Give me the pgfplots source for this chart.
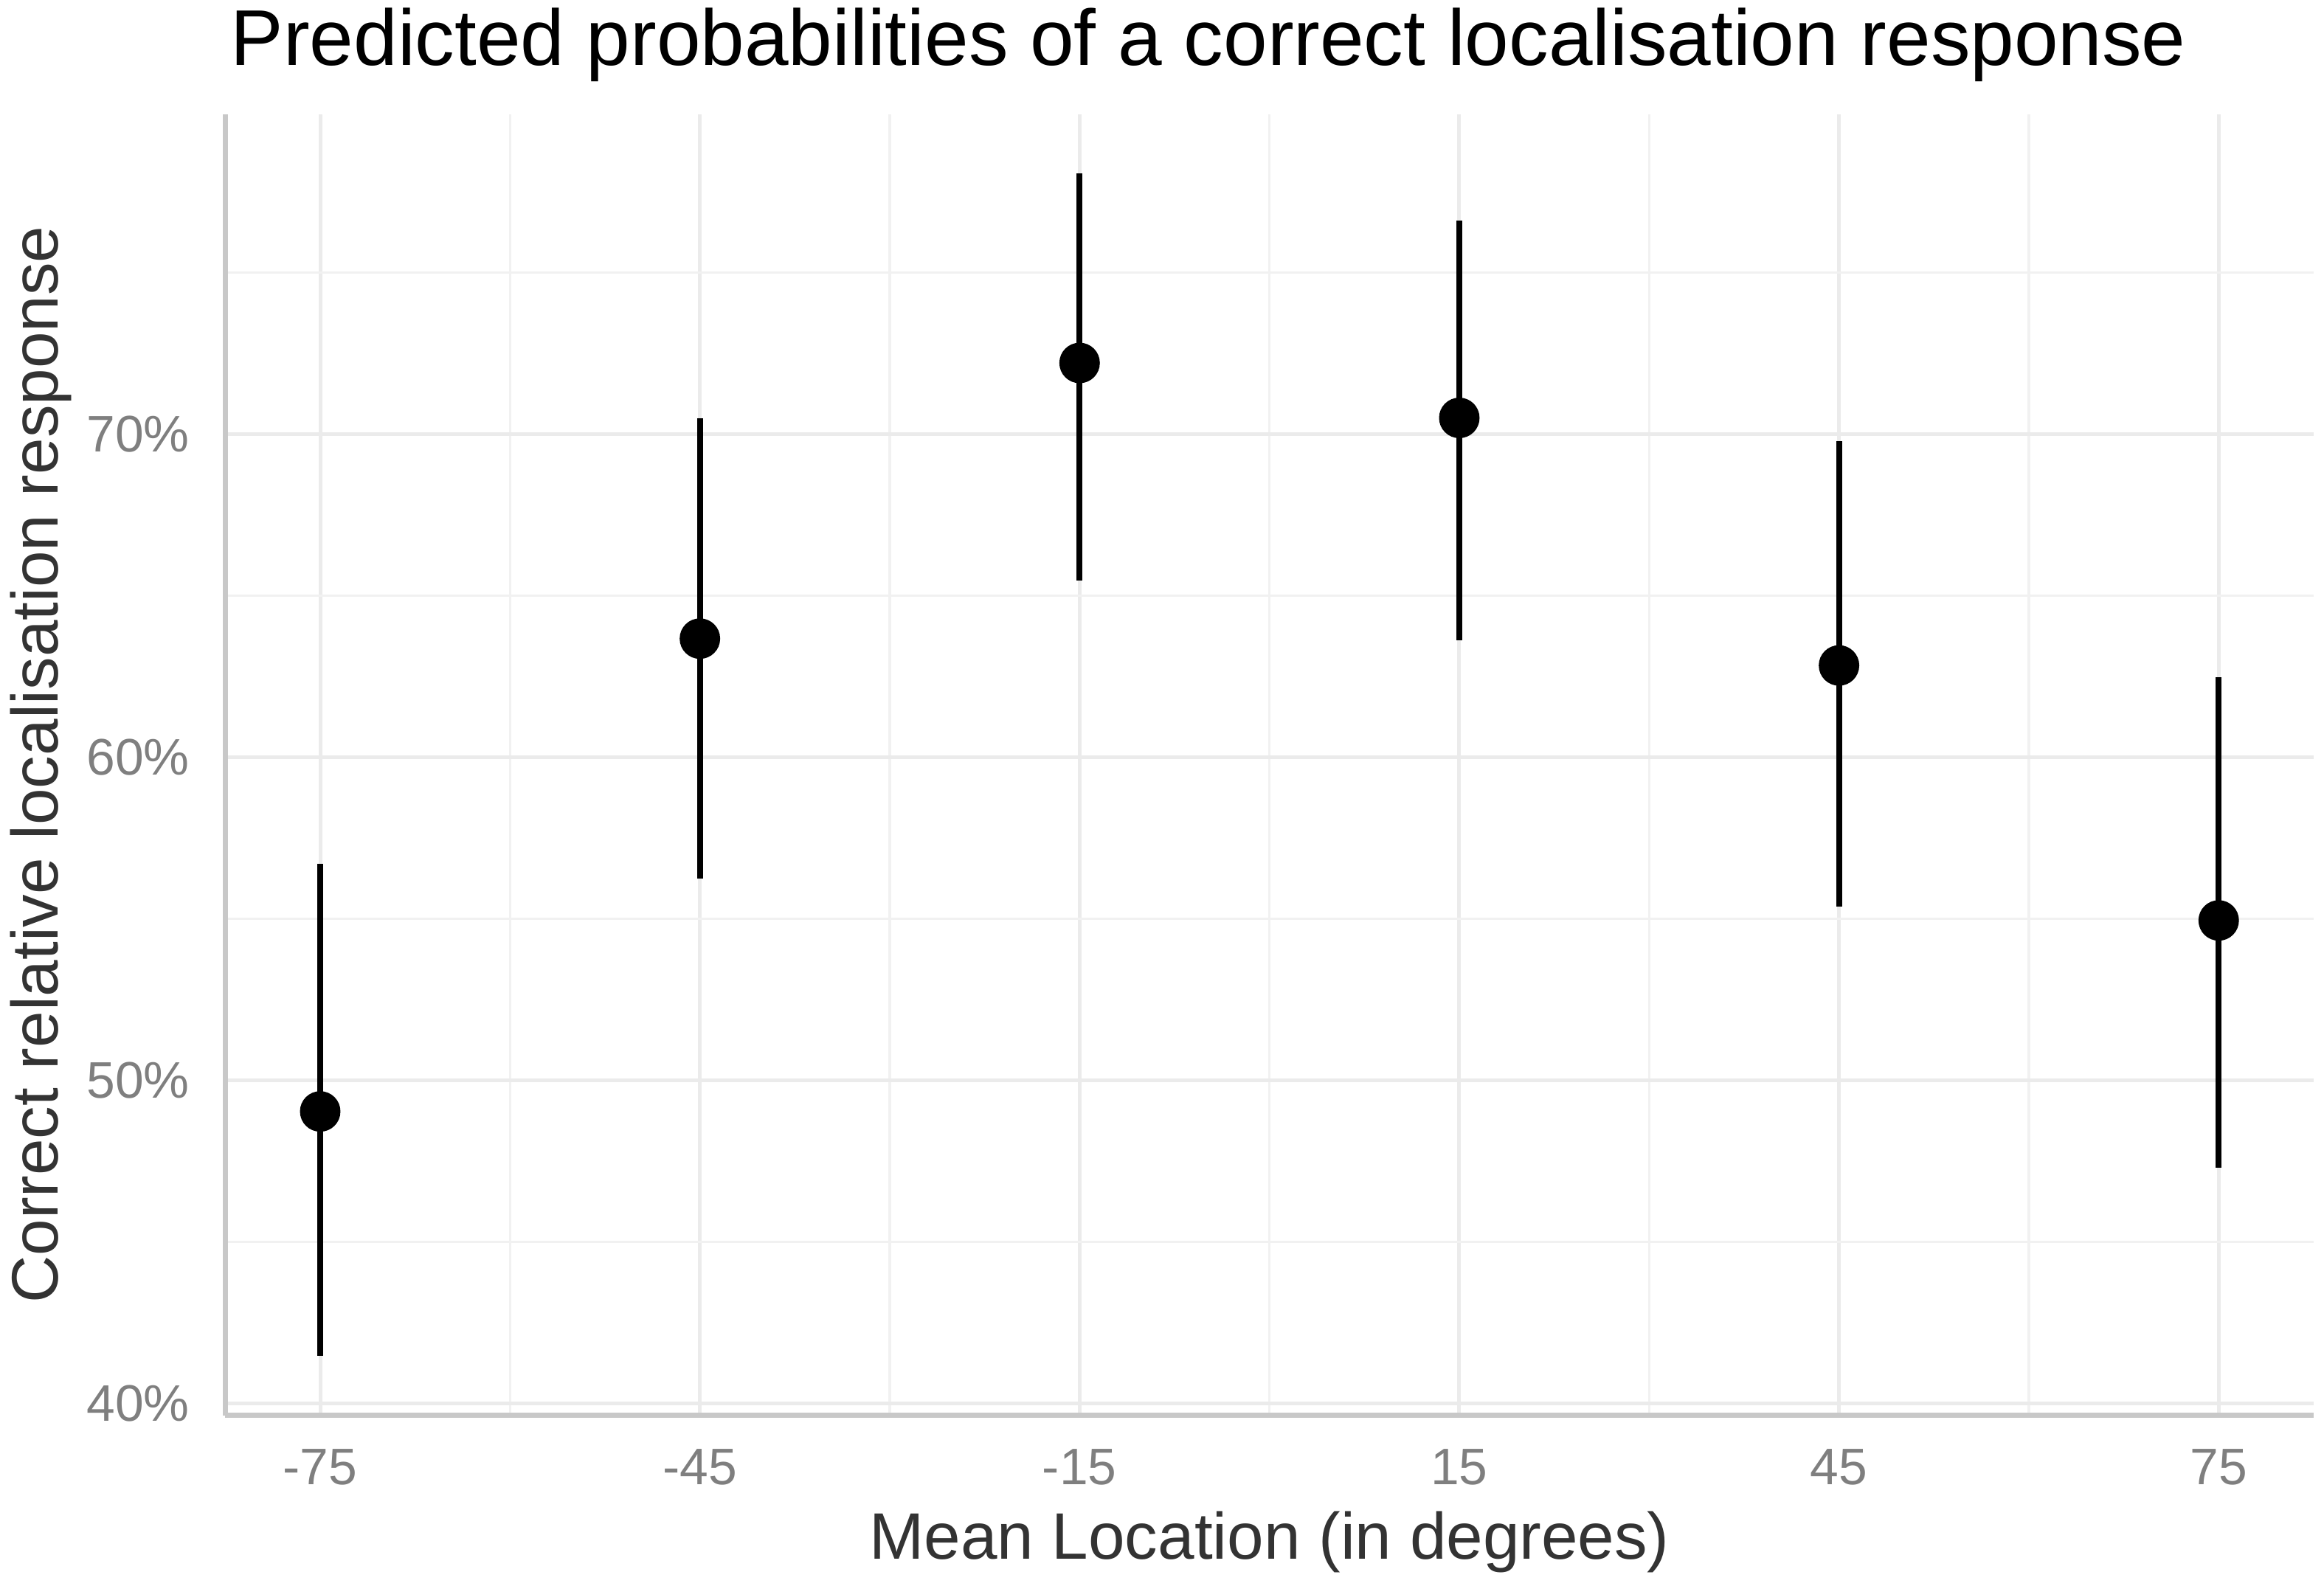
\documentclass[border=0pt]{standalone}
\usepackage{fontspec}
\setmainfont{Liberation Sans}
\usepackage{pgfplots}
\pgfplotsset{compat=1.18}
\usepackage{pgfplotstable}
\definecolor{gridmaj}{HTML}{EBEBEB}
\definecolor{gridmin}{HTML}{F1F1F1}
\definecolor{axline}{HTML}{C8C8C8}
\definecolor{ticktext}{HTML}{7F7F7F}
\definecolor{titletext}{HTML}{333333}

\pgfplotstableread{
x y ep em
-75 49.04 7.66 7.57
-45 63.67 6.83 7.43
-15 72.20 5.87 6.74
15 70.50 6.11 6.88
45 62.84 6.93 7.47
75 54.95 7.53 7.66
}\datatab

\begin{document}
\begin{tikzpicture}
\useasboundingbox (-45.6bp,-34.5bp) rectangle (424.8bp,286.5bp);
\begin{axis}[
  at={(0,0)}, anchor=south west, scale only axis,
  width=422.7bp, height=263.4bp,
  xmin=-82.5, xmax=82.5, ymin=39.64, ymax=79.9,
  xtick={-75,-45,-15,15,45,75}, xticklabels={-75,-45,-15,15,45,75},
  minor xtick={-60,-30,0,30,60},
  ytick={40,50,60,70}, yticklabels={40\%,50\%,60\%,70\%},
  minor ytick={45,55,65,75},
  grid=both,
  major grid style={gridmaj, line width=0.75bp},
  minor grid style={gridmin, line width=0.5bp},
  axis lines=left, axis line style={-, axline, line width=1bp},
  major tick length=0pt, minor tick length=0pt,
  tick style={draw=none},
  /pgf/number format/assume math mode=true,
  xticklabel style={font=\fontsize{10.4bp}{12bp}\selectfont, text=ticktext, anchor=base, inner sep=0pt, yshift=-14.1bp},
  yticklabel style={font=\fontsize{10.4bp}{12bp}\selectfont, text=ticktext, anchor=east, inner sep=0pt, xshift=-7.05bp},
  clip=false,
]
\addplot[only marks, mark=*, mark size=3.9bp, black,
  error bars/.cd, y dir=both, y explicit, error mark=none,
  error bar style={line width=1.2bp, black}]
  table[x=x, y=y, y error plus=ep, y error minus=em]{\datatab};
\end{axis}
\node[anchor=base west, inner sep=0pt, font=\fontsize{16bp}{19bp}\selectfont] at (0.9bp,273.3bp) {Predicted probabilities of a correct localisation response};
\node[anchor=base, inner sep=0pt, font=\fontsize{13.3bp}{16bp}\selectfont, text=titletext] at (211.35bp,-29.1bp) {Mean Location (in degrees)};
\node[anchor=base, rotate=90, inner sep=0pt, font=\fontsize{13.3bp}{16bp}\selectfont, text=titletext] at (-33.9bp,131.7bp) {Correct relative localisation response};
\end{tikzpicture}
\end{document}
